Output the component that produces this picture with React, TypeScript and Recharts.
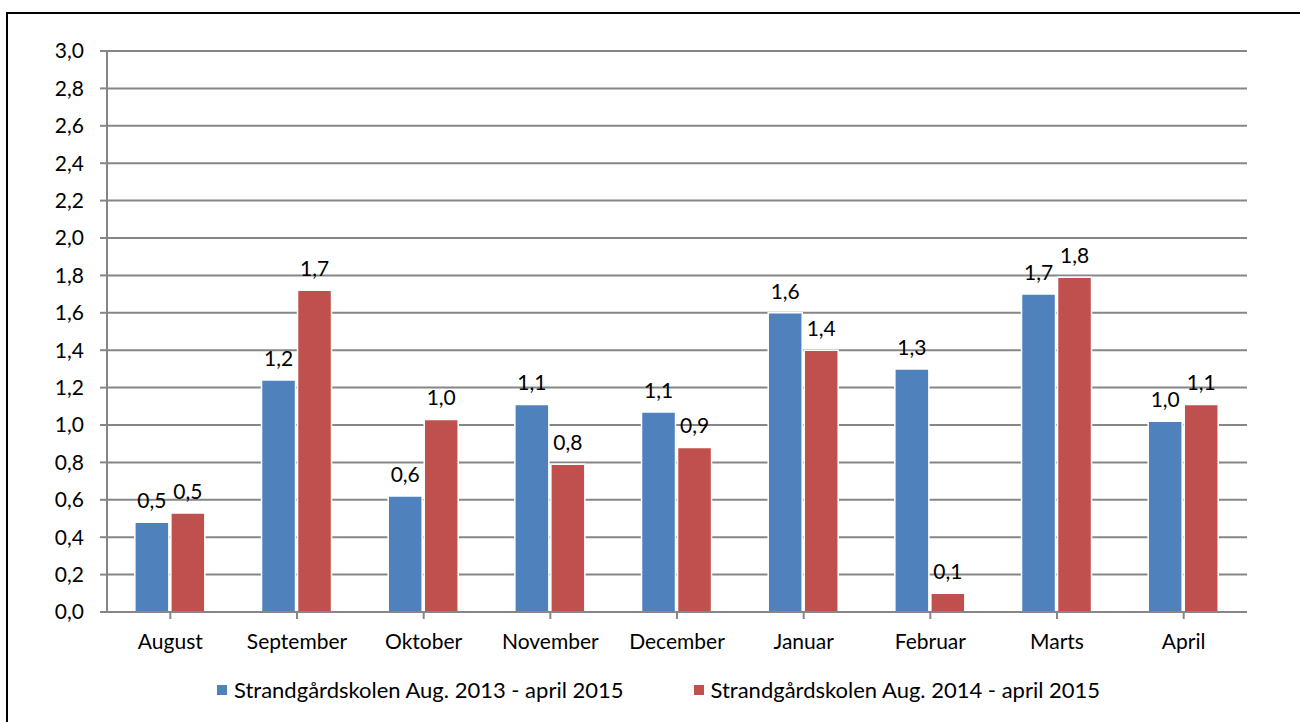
import React from 'react'
import {
    BarChart,
    Bar,
    XAxis,
    YAxis,
    CartesianGrid,
    LabelList,
} from 'recharts'

const months = ['August', 'September', 'Oktober', 'November', 'December', 'Januar', 'Februar', 'Marts', 'April']
const series2013 = [0.48, 1.24, 0.62, 1.11, 1.07, 1.6, 1.3, 1.7, 1.02]
const series2014 = [0.53, 1.72, 1.03, 0.79, 0.88, 1.4, 0.1, 1.79, 1.11]
const yTicks = [0, 0.2, 0.4, 0.6, 0.8, 1.0, 1.2, 1.4, 1.6, 1.8, 2.0, 2.2, 2.4, 2.6, 2.8, 3.0]
const seriesNames = ['Strandgårdskolen Aug. 2013 - april 2015', 'Strandgårdskolen Aug. 2014 - april 2015']

const BLUE = '#4F81BD'
const RED = '#C0504D'
const GRID = '#868686'
const FONT = 'Lato, sans-serif'
const FS = 21

const data = months.map((m, i) => ({ month: m, a: series2013[i], b: series2014[i] }))

const fmt = (v: number) => v.toFixed(1).replace('.', ',')

// legend drawn as plain html so it doesn't eat into the plot area
const LegendBox = () => (
    <div style={{ display: 'flex', alignItems: 'center', fontFamily: FONT, fontSize: 22, color: '#000', whiteSpace: 'nowrap' }}>
        {seriesNames.map((name, i) => (
            <div key={name} style={{ display: 'flex', alignItems: 'center', marginRight: i === 0 ? 70 : 0 }}>
                <span style={{ width: 10, height: 10, background: i === 0 ? BLUE : RED, marginRight: 7, display: 'inline-block' }} />
                <span>{name}</span>
            </div>
        ))}
    </div>
)

const App = () => {
    return (
        <div style={{ position: 'absolute', left: 0, top: 0, width: 1300, height: 722, background: '#fff', overflow: 'hidden' }}>
            <div
                style={{
                    position: 'absolute',
                    left: 6,
                    top: 12,
                    width: 1320,
                    height: 730,
                    borderLeft: '2px solid #000',
                    borderTop: '2px solid #000',
                }}
            />
            <div style={{ position: 'absolute', left: 0, top: 0 }}>
                <BarChart
                    width={1300}
                    height={722}
                    data={data}
                    margin={{ top: 51, right: 53, left: 47, bottom: 80 }}
                    barCategoryGap="22%"
                    barGap={2}
                >
                    <CartesianGrid vertical={false} stroke={GRID} strokeWidth={2} />
                    <XAxis
                        dataKey="month"
                        height={30}
                        stroke={GRID}
                        strokeWidth={2}
                        tickSize={7}
                        tickLine={{ stroke: GRID, strokeWidth: 2 }}
                        tick={{ fill: '#000', fontSize: FS, fontFamily: FONT, dy: 13 }}
                        interval={0}
                    />
                    <YAxis
                        width={60}
                        domain={[0, 3]}
                        ticks={yTicks}
                        tickFormatter={fmt}
                        stroke={GRID}
                        strokeWidth={2}
                        tickSize={7}
                        tickLine={{ stroke: GRID, strokeWidth: 2 }}
                        tick={{ fill: '#000', fontSize: FS, fontFamily: FONT, dx: -14 }}
                        interval={0}
                    />
                    <Bar dataKey="a" name={seriesNames[0]} fill={BLUE} stroke="#fff" strokeWidth={1.5} isAnimationActive={false}>
                        <LabelList dataKey="a" position="top" offset={14} formatter={(v: any) => fmt(Number(v))} style={{ fill: '#000', fontSize: FS, fontFamily: FONT }} />
                    </Bar>
                    <Bar dataKey="b" name={seriesNames[1]} fill={RED} stroke="#fff" strokeWidth={1.5} isAnimationActive={false}>
                        <LabelList dataKey="b" position="top" offset={14} formatter={(v: any) => fmt(Number(v))} style={{ fill: '#000', fontSize: FS, fontFamily: FONT }} />
                    </Bar>
                </BarChart>
            </div>
            <div style={{ position: 'absolute', left: 217, top: 676 }}>
                <LegendBox />
            </div>
        </div>
    )
}

export default App
